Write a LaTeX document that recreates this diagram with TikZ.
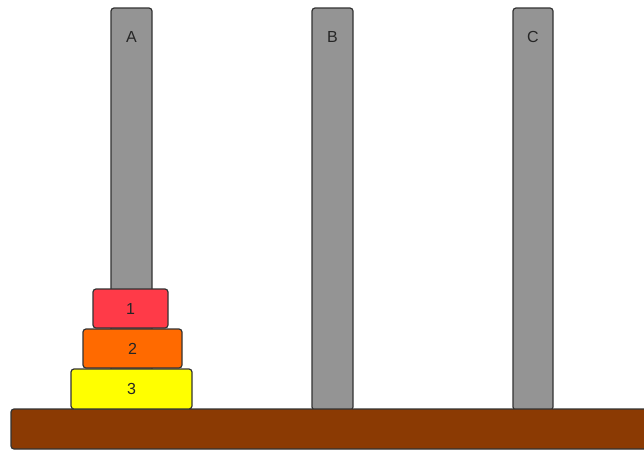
\documentclass[tikz,border=0pt]{standalone}
\usepackage{fontspec}
\setmainfont{Liberation Sans}
\definecolor{peggray}{HTML}{949494}
\definecolor{basebrown}{HTML}{8B3A03}
\definecolor{diskred}{HTML}{FF3A48}
\definecolor{diskorange}{HTML}{FF6A00}
\definecolor{diskyellow}{HTML}{FFFF00}
\definecolor{edge}{HTML}{333333}
\begin{document}
\begin{tikzpicture}[x=1pt,y=-1pt,
  part/.style={draw=edge,line width=1.2pt,rounded corners=3pt},
  lbl/.style={font=\fontsize{16}{16}\selectfont,text=black!85}]
\useasboundingbox (0,0) rectangle (644,450);
\clip (0,0) rectangle (644,450);
% pegs
\draw[part,fill=peggray] (111,8) rectangle (152,410);
\draw[part,fill=peggray] (312,8) rectangle (353,410);
\draw[part,fill=peggray] (513,8) rectangle (553,410);
\node[lbl] (la) at (131.5,37) {A};
\node[lbl] (lb) at (332.5,37) {B};
\node[lbl] (lc) at (533,37) {C};
% base
\draw[part,fill=basebrown] (11,409) rectangle (660,449);
% disks
\draw[part,fill=diskyellow] (71,369) rectangle (192,409);
\draw[part,fill=diskorange] (83,329) rectangle (182,368);
\draw[part,fill=diskred] (93,289) rectangle (168,328);
\node[lbl] (d1) at (130.5,308.5) {1};
\node[lbl] (d2) at (132.5,348.5) {2};
\node[lbl] (d3) at (131.5,389) {3};
\end{tikzpicture}
\end{document}
